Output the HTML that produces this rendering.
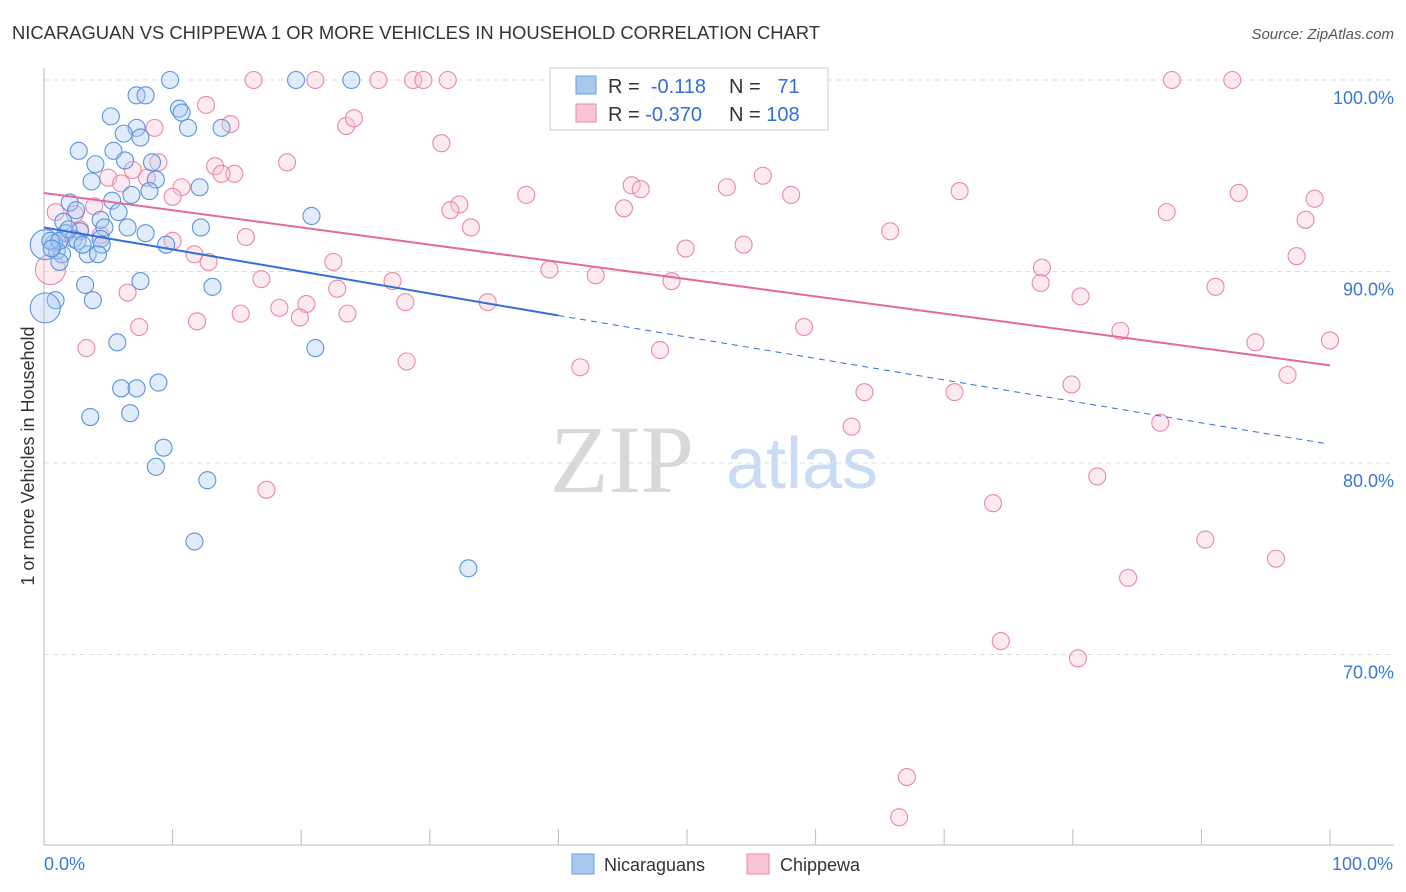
<!DOCTYPE html>
<html><head><meta charset="utf-8"><style>
body{margin:0;background:#fff;font-family:"Liberation Sans",sans-serif;}
svg{display:block}
</style></head><body>
<svg id="chart" width="1406" height="892" xmlns="http://www.w3.org/2000/svg">
<text x="12" y="39" font-size="18.4" fill="#333">NICARAGUAN VS CHIPPEWA 1 OR MORE VEHICLES IN HOUSEHOLD CORRELATION CHART</text>
<text x="1394" y="39" font-size="15" fill="#555" font-style="italic" text-anchor="end">Source: ZipAtlas.com</text>
<text x="34" y="456" font-size="18" fill="#333" text-anchor="middle" transform="rotate(-90 34 456)">1 or more Vehicles in Household</text>
<g>
<text x="622" y="492" font-size="96" font-family="Liberation Serif,serif" fill="#d8d8d8" text-anchor="middle">ZIP</text>
<text x="802" y="488" font-size="72" fill="#c9dcf3" text-anchor="middle">atlas</text>
</g>
<g id="grid"></g>
<g id="axes"></g>
<g id="pts"></g>
<g id="trends"></g>
<g>
<rect x="550" y="68" width="278" height="62" fill="#fff" stroke="#ccc"/>
<rect x="576" y="76" width="20" height="18" fill="#a9c8f0" stroke="#6b9fe0"/>
<rect x="576" y="104" width="20" height="18" fill="#f8c3d4" stroke="#e889a8"/>
<text x="608" y="93" font-size="20" fill="#333">R = <tspan fill="#2f6fd8">&#160;-0.118</tspan></text>
<text x="729" y="93" font-size="20" fill="#333">N = <tspan fill="#2f6fd8">&#160;&#160;71</tspan></text>
<text x="608" y="121" font-size="20" fill="#333">R = <tspan fill="#2f6fd8">-0.370</tspan></text>
<text x="729" y="121" font-size="20" fill="#333">N = <tspan fill="#2f6fd8">108</tspan></text>
</g>
<g>
<rect x="572" y="854" width="22" height="20" fill="#a9c8f0" stroke="#6b9fe0"/>
<text x="604" y="871" font-size="18" fill="#333">Nicaraguans</text>
<rect x="747" y="854" width="22" height="20" fill="#f8c3d4" stroke="#e889a8"/>
<text x="780" y="871" font-size="18" fill="#333">Chippewa</text>
</g>
</svg>
<script>
const yTicks=[100,90,80,70];
const yTickLabels=["100.0%","90.0%","80.0%","70.0%"];
const xTickLabels=["0.0%","100.0%"];
const blueX=[9.8,19.6,23.9,7.2,7.9,10.5,10.7,5.2,11.2,7.2,13.8,6.2,7.5,2.7,5.4,4.0,6.3,8.4,3.7,8.7,8.2,6.8,12.1,2.0,5.3,2.5,5.8,4.4,1.5,4.7,6.5,7.9,12.2,20.8,1.7,2.8,2.3,0.8,4.4,4.5,9.5,1.0,3.4,1.4,4.2,1.2,3.2,7.5,13.1,0.9,0.1,3.8,5.7,21.1,6.0,7.2,8.9,3.6,6.7,9.3,8.7,12.7,11.7,33.0,0.1,0.5,1.2,2.6,1.9,0.6,3.0];
const blueY=[100,100,100,99.2,99.2,98.5,98.3,98.1,97.5,97.5,97.5,97.2,97.0,96.3,96.3,95.6,95.8,95.7,94.7,94.8,94.2,94.0,94.4,93.6,93.7,93.2,93.1,92.7,92.6,92.3,92.3,92.0,92.3,92.9,92.0,92.1,91.7,91.5,91.7,91.4,91.4,91.1,90.9,90.9,90.9,90.5,89.3,89.5,89.2,88.5,88.1,88.5,86.3,86.0,83.9,83.9,84.2,82.4,82.6,80.8,79.8,79.1,75.9,74.5,91.4,91.6,91.6,91.6,92.2,91.2,91.4];
const pinkX=[16.3,21.1,26.0,28.7,29.5,31.4,45.1,49.5,53.2,87.7,92.4,12.6,8.6,14.5,23.5,24.1,30.9,8.9,18.9,13.3,14.8,13.8,5.0,6.0,8.0,10.7,10.0,6.9,3.9,0.9,37.5,45.7,46.4,53.1,55.9,58.1,71.2,92.9,98.8,32.3,31.6,45.1,33.2,87.3,98.1,65.8,49.9,54.4,15.7,10.0,11.7,12.8,22.5,39.3,42.9,48.8,77.6,77.5,97.4,16.9,27.1,22.8,20.4,18.3,19.9,23.6,15.3,6.5,28.1,34.5,80.6,91.1,11.9,7.4,3.3,28.2,41.7,47.9,59.1,83.7,94.2,100,96.7,79.9,63.8,70.8,86.8,62.8,17.3,81.9,73.8,90.3,95.8,84.3,74.4,80.4,67.1,66.5,0.5,1.2,2.8,4.4,2.4];
const pinkY=[100,100,100,100,100,100,100,100,100,100,100,98.7,97.5,97.7,97.6,98.0,96.7,95.7,95.7,95.5,95.1,95.1,94.9,94.6,94.9,94.4,93.9,95.3,93.4,93.1,94.0,94.5,94.3,94.4,95.0,94.0,94.2,94.1,93.8,93.5,93.2,93.3,92.3,93.1,92.7,92.1,91.2,91.4,91.8,91.6,90.9,90.5,90.5,90.1,89.8,89.5,90.2,89.4,90.8,89.6,89.5,89.1,88.3,88.1,87.6,87.8,87.8,88.9,88.4,88.4,88.7,89.2,87.4,87.1,86.0,85.3,85.0,85.9,87.1,86.9,86.3,86.4,84.6,84.1,83.7,83.7,82.1,81.9,78.6,79.3,77.9,76.0,75.0,74.0,70.7,69.8,63.6,61.5,90.1,91.6,92.2,91.9,93.0];
const blueBig=[50,64];
const pinkBig=[98];
const blueTrend=[[0,92.3],[40,87.7],[99.8,81.0]];
const pinkTrend=[[0,94.1],[100,85.1]];
const NS="http://www.w3.org/2000/svg";
function xs(v){return 44+v*12.86;}
function ys(v){return 80+(100-v)*19.15;}
function mk(t,a,p){const e=document.createElementNS(NS,t);for(const k in a)e.setAttribute(k,a[k]);document.getElementById(p).appendChild(e);return e;}
yTicks.forEach((t,i)=>{
 const l=mk('line',{x1:44,x2:1394,y1:ys(t),y2:ys(t),stroke:'#ddd','stroke-dasharray':'5,4'},'grid');
 
 
 const tx=mk('text',{x:1394,y:ys(t)+24,'font-size':18,fill:'#3a78d6','text-anchor':'end'},'axes');tx.textContent=yTickLabels[i];
 
 
});
const ax=mk('line',{x1:44,x2:44,y1:68,y2:845,stroke:'#bbb'},'axes');


const bx=mk('line',{x1:44,x2:1394,y1:845,y2:845,stroke:'#bbb'},'axes');


for(let i=0;i<=10;i++){const t=mk('line',{x1:xs(i*10),x2:xs(i*10),y1:829,y2:845,stroke:'#bbb'},'axes');
 
 }
[[0,'start'],[100,'end']].forEach((p,i)=>{const t=mk('text',{x:xs(p[0])+(i?63:0),y:870,'font-size':18,fill:'#3a78d6','text-anchor':p[1]},'axes');t.textContent=xTickLabels[i];
 
 });
function pts(X,Y,big,fill,stroke,name){X.forEach((x,i)=>{
 const c=mk('circle',{cx:xs(x),cy:ys(Y[i]),r:big.includes(i)?15:8.5,fill:fill,'fill-opacity':0.35,stroke:stroke,'stroke-width':1.1},'pts');
 
 });}
pts(pinkX,pinkY,pinkBig,'#f8c3d4','#e889a8','chippewa-point');
pts(blueX,blueY,blueBig,'#a9c8f0','#5b93de','nicaraguan-point');
const b1=mk('line',{x1:xs(blueTrend[0][0]),y1:ys(blueTrend[0][1]),x2:xs(blueTrend[1][0]),y2:ys(blueTrend[1][1]),stroke:'#2f6fd8','stroke-width':2},'trends');


const b2=mk('line',{x1:xs(blueTrend[1][0]),y1:ys(blueTrend[1][1]),x2:xs(blueTrend[2][0]),y2:ys(blueTrend[2][1]),stroke:'#2f6fd8','stroke-width':1,'stroke-dasharray':'6,5'},'trends');


const p1=mk('line',{x1:xs(pinkTrend[0][0]),y1:ys(pinkTrend[0][1]),x2:xs(pinkTrend[1][0]),y2:ys(pinkTrend[1][1]),stroke:'#e66a97','stroke-width':2},'trends');


</script>
</body></html>
